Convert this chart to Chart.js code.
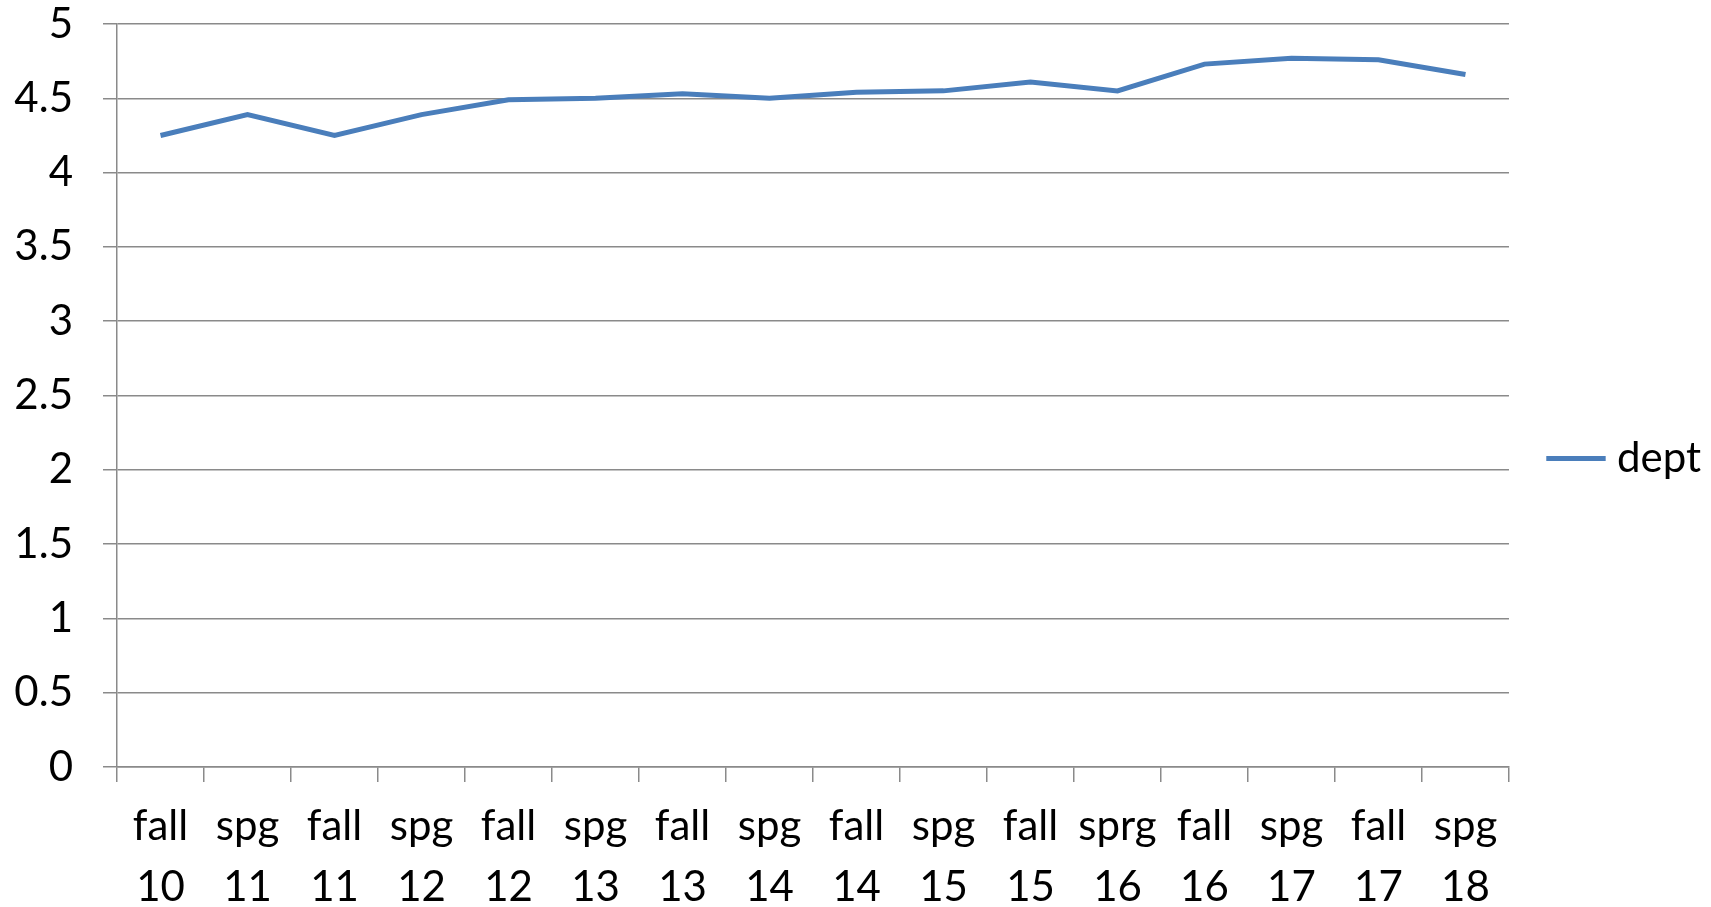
<!DOCTYPE html>
<html>
<head>
<meta charset="utf-8">
<script src="https://cdn.jsdelivr.net/npm/chart.js@4/dist/chart.umd.min.js"></script>
<style>
  html, body { margin: 0; padding: 0; background: #fff; }
  #wrap { width: 1711px; height: 907px; }
</style>
</head>
<body>
<div id="wrap"><canvas id="chart"></canvas></div>
<script>
// dept rating by term
const terms = [['fall','10'],['spg','11'],['fall','11'],['spg','12'],['fall','12'],['spg','13'],['fall','13'],['spg','14'],
               ['fall','14'],['spg','15'],['fall','15'],['sprg','16'],['fall','16'],['spg','17'],['fall','17'],['spg','18']];
const dept = [4.25, 4.39, 4.25, 4.39, 4.49, 4.50, 4.53, 4.50, 4.54, 4.55, 4.61, 4.55, 4.73, 4.77, 4.76, 4.66];
const yTicks = [0, 0.5, 1, 1.5, 2, 2.5, 3, 3.5, 4, 4.5, 5];

Chart.defaults.font.family = 'Lato, "Open Sans", sans-serif';
Chart.defaults.color = '#000';

const gridColor = '#8a8a8a';

new Chart(document.getElementById('chart'), {
  type: 'line',
  data: {
    labels: terms,
    datasets: [{
      label: 'dept',
      data: dept,
      borderColor: '#4A7EBB',
      backgroundColor: '#4A7EBB',
      borderWidth: 5,
      pointRadius: 0,
      pointBorderColor: '#4A7EBB',
      pointBorderWidth: 5,
      tension: 0,
      fill: false
    }]
  },
  options: {
    responsive: true,
    maintainAspectRatio: false,
    animation: false,
    layout: { padding: { top: 10 } },
    plugins: {
      tooltip: { enabled: false },
      legend: {
        position: 'right',
        maxWidth: 204,
        labels: {
          usePointStyle: true,
          pointStyle: 'line',
          boxHeight: 42,
          padding: 47,
          font: { size: 42 },
          color: '#000'
        }
      }
    },
    scales: {
      x: {
        offset: true,
        grid: { offset: true, drawOnChartArea: false, color: gridColor, lineWidth: 1.5, tickLength: 15 },
        border: { color: gridColor, width: 1.5 },
        ticks: { font: { size: 42, lineHeight: 1.45 }, padding: 14, maxRotation: 0, autoSkip: false, color: '#000' },
        afterFit: s => { s.height = 140; }
      },
      y: {
        min: 0,
        max: 5,
        afterBuildTicks: s => { s.ticks = yTicks.map(v => ({ value: v })); },
        grid: { color: gridColor, lineWidth: 1.5, tickLength: 14 },
        border: { color: gridColor, width: 1.5 },
        ticks: { font: { size: 42 }, padding: 30, color: '#000', callback: v => String(v) },
        afterFit: s => { s.width = 117; s.paddingTop = 24; s.paddingBottom = 0; }
      }
    }
  }
});
</script>
</body>
</html>
